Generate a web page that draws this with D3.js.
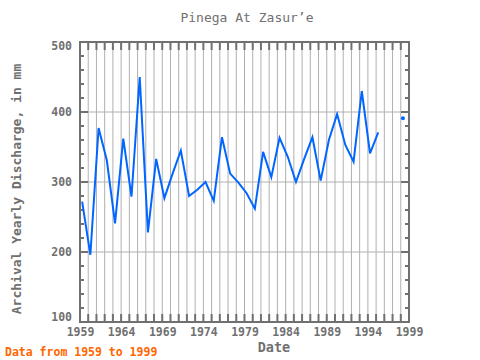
<!DOCTYPE html>
<html><head><meta charset="utf-8">
<script src="https://cdn.jsdelivr.net/npm/d3@7"></script>
<style>body{margin:0;background:#fff}svg{display:block}</style>
</head><body>
<svg id="c" width="480" height="360"></svg>
<script>
const years = [1959,1960,1961,1962,1963,1964,1965,1966,1967,1968,1969,1970,1971,1972,1973,1974,1975,1976,1977,1978,1979,1980,1981,1982,1983,1984,1985,1986,1987,1988,1989,1990,1991,1992,1993,1994,1995,1996,1997,1998,1999];
const discharge = [272,196,377,331,241,362,279,450,228,333,277,312,345,280,289,300,273,364,312,299,284,262,343,307,363,336,300,333,364,302,360,397,353,329,430,341,371,null,null,391,null];
const xTicks = [1959,1964,1969,1974,1979,1984,1989,1994,1999];
const yTicks = [100,200,300,400,500];

const svg = d3.select("#c");
const L=80,R=409,T=42,B=322;
const x = d3.scaleLinear().domain([1959,1999]).range([L,R]);
const y = d3.scaleLinear().domain([100,500]).range([B,T]);
const gridC="#b0b0b0", frameC="#707070", textC="#707070";
const mono="'DejaVu Sans Mono', monospace";

// vertical gridlines every year
svg.append("g").selectAll("line").data(d3.range(1960,1999)).join("line")
  .attr("x1",d=>x(d)).attr("x2",d=>x(d)).attr("y1",T).attr("y2",B)
  .attr("stroke",gridC).attr("stroke-width",1);
// horizontal gridlines
svg.append("g").selectAll("line").data([200,300,400]).join("line")
  .attr("x1",L).attr("x2",R).attr("y1",d=>y(d)).attr("y2",d=>y(d))
  .attr("stroke",gridC).attr("stroke-width",1);

// ticks
const yearTicks = d3.range(1960,1999);
const tg = svg.append("g").attr("stroke",frameC).attr("stroke-width",2);
tg.selectAll(".tt").data(yearTicks).join("line")
  .attr("x1",d=>x(d)).attr("x2",d=>x(d)).attr("y1",T).attr("y2",T+8);
tg.selectAll(".bt").data(yearTicks).join("line")
  .attr("x1",d=>x(d)).attr("x2",d=>x(d)).attr("y1",B).attr("y2",B-8);
const minor = d3.range(120,500,20);
tg.selectAll(".lt").data(minor).join("line")
  .attr("x1",L).attr("x2",d=>L+(d%100===0?8:4)).attr("y1",d=>y(d)).attr("y2",d=>y(d));
tg.selectAll(".rt").data(minor).join("line")
  .attr("x1",R).attr("x2",d=>R-(d%100===0?8:4)).attr("y1",d=>y(d)).attr("y2",d=>y(d));

// frame
svg.append("rect").attr("x",L).attr("y",T).attr("width",R-L).attr("height",B-T)
  .attr("fill","none").attr("stroke",frameC).attr("stroke-width",2);

// line
const pts = years.map((yr,i)=>({yr, v:discharge[i]}));
const line = d3.line().defined(d=>d.v!==null).x(d=>x(d.yr+0.26)).y(d=>y(d.v));
svg.append("path").datum(pts).attr("d",line).attr("fill","none")
  .attr("stroke","#0066ff").attr("stroke-width",2);
// isolated points
const iso = pts.filter((d,i)=>d.v!==null && (i===0||pts[i-1].v===null) && (i===pts.length-1||pts[i+1].v===null));
svg.append("g").selectAll("circle").data(iso).join("circle")
  .attr("cx",d=>x(d.yr+0.26)).attr("cy",d=>y(d.v)).attr("r",2).attr("fill","#0066ff");

// tick labels
svg.append("g").selectAll("text").data(xTicks).join("text")
  .attr("x",d=>x(d)+0.5).attr("y",B+14).attr("text-anchor","middle")
  .attr("font-family",mono).attr("font-size",11.5).attr("font-weight","bold").attr("fill",textC).text(d=>d);
svg.append("g").selectAll("text").data(yTicks).join("text")
  .attr("x",72).attr("y",d=>d===100?y(d)-1:(d===500?y(d)+8:y(d)+4)).attr("text-anchor","end")
  .attr("font-family",mono).attr("font-size",11.5).attr("font-weight","bold").attr("fill",textC).text(d=>d);

// titles
svg.append("text").attr("x",247).attr("y",22).attr("text-anchor","middle")
  .attr("font-family",mono).attr("font-size",13).attr("fill",textC).text("Pinega At Zasur’e");
svg.append("text").attr("x",274).attr("y",352).attr("text-anchor","middle")
  .attr("font-family",mono).attr("font-size",13.5).attr("font-weight","bold").attr("fill",textC).text("Date");
svg.append("text").attr("transform","translate(21,189) rotate(-90)").attr("text-anchor","middle")
  .attr("font-family",mono).attr("font-size",13).attr("font-weight","bold").attr("fill",textC).text("Archival Yearly Discharge, in mm");
svg.append("text").attr("x",5).attr("y",356)
  .attr("font-family",mono).attr("font-size",11.5).attr("font-weight","bold").attr("fill","#ff6600").text("Data from 1959 to 1999");
</script>
</body></html>
